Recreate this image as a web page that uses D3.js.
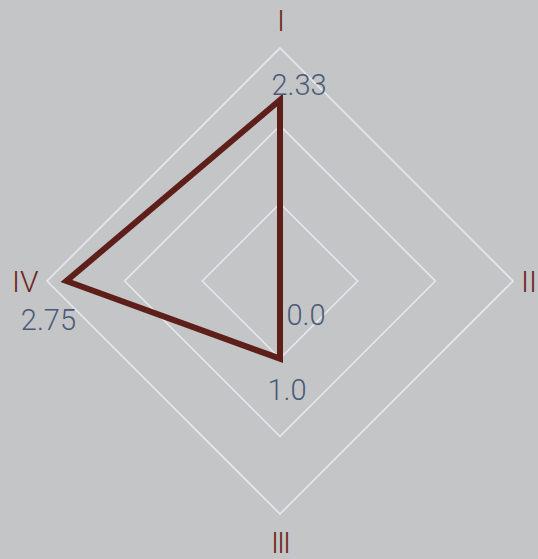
<!DOCTYPE html>
<html>
<head>
<meta charset="utf-8">
<script src="https://cdn.jsdelivr.net/npm/d3@7/dist/d3.min.js"></script>
<style>
  html, body { margin: 0; padding: 0; background: #c4c5c7; }
  svg { display: block; }
  text { font-family: Roboto, "Liberation Sans", sans-serif; font-weight: 300; }
</style>
</head>
<body>
<div id="chart"></div>
<script>
'use strict';

var axes = ['I', 'II', 'III', 'IV'];
var values = [2.33, 0.0, 1.0, 2.75];
var valueLabels = ['2.33', '0.0', '1.0', '2.75'];
var levels = [1, 2, 3];

var width = 538;
var height = 559;
var cx = 280;
var cy = 281;
var radius = 233;

// label nudges per axis
var labelOffset = [[19, -5], [26, 44], [7, 41], [-18, 49]];
var axisAnchor = ['middle', 'end', 'middle', 'start'];
var axisDist = [261, 257, 261, 268];

var svg = d3.select('#chart').append('svg')
    .attr('width', width)
    .attr('height', height);

var r = d3.scaleLinear().domain([0, 3]).range([0, radius]);

function angle(i) {
    return -Math.PI / 2 + i * 2 * Math.PI / axes.length;
}

function pos(i, v) {
    return [cx + Math.cos(angle(i)) * r(v), cy + Math.sin(angle(i)) * r(v)];
}

var line = d3.line().curve(d3.curveLinearClosed);

svg.append('g').selectAll('path')
    .data(levels)
    .enter()
    .append('path')
        .attr('d', function(l) { return line(axes.map(function(a, i) { return pos(i, l); })); })
        .attr('fill', 'none')
        .attr('stroke', '#e6e8eb')
        .attr('stroke-width', 1.6);

svg.append('path')
    .attr('d', line(values.map(function(v, i) { return pos(i, v); })))
    .attr('fill', 'none')
    .attr('stroke', '#5e1f1b')
    .attr('stroke-width', 6)
    .attr('stroke-linejoin', 'miter');

svg.append('g').selectAll('text')
    .data(axes)
    .enter()
    .append('text')
        .attr('x', function(d, i) { return cx + Math.cos(angle(i)) * axisDist[i]; })
        .attr('y', function(d, i) { return cy + Math.sin(angle(i)) * axisDist[i]; })
        .attr('text-anchor', function(d, i) { return axisAnchor[i]; })
        .attr('dy', '0.36em')
        .attr('font-size', 30)
        .attr('letter-spacing', function(d, i) { return i % 2 === 0 ? -2 : 0; })
        .attr('fill', '#6d2522')
        .text(function(d) { return d; });

svg.append('g').selectAll('text')
    .data(values)
    .enter()
    .append('text')
        .attr('x', function(d, i) { return pos(i, d)[0] + labelOffset[i][0]; })
        .attr('y', function(d, i) { return pos(i, d)[1] + labelOffset[i][1]; })
        .attr('text-anchor', 'middle')
        .attr('font-size', 29)
        .attr('fill', '#4b5a78')
        .text(function(d, i) { return valueLabels[i]; });
</script>
</body>
</html>
